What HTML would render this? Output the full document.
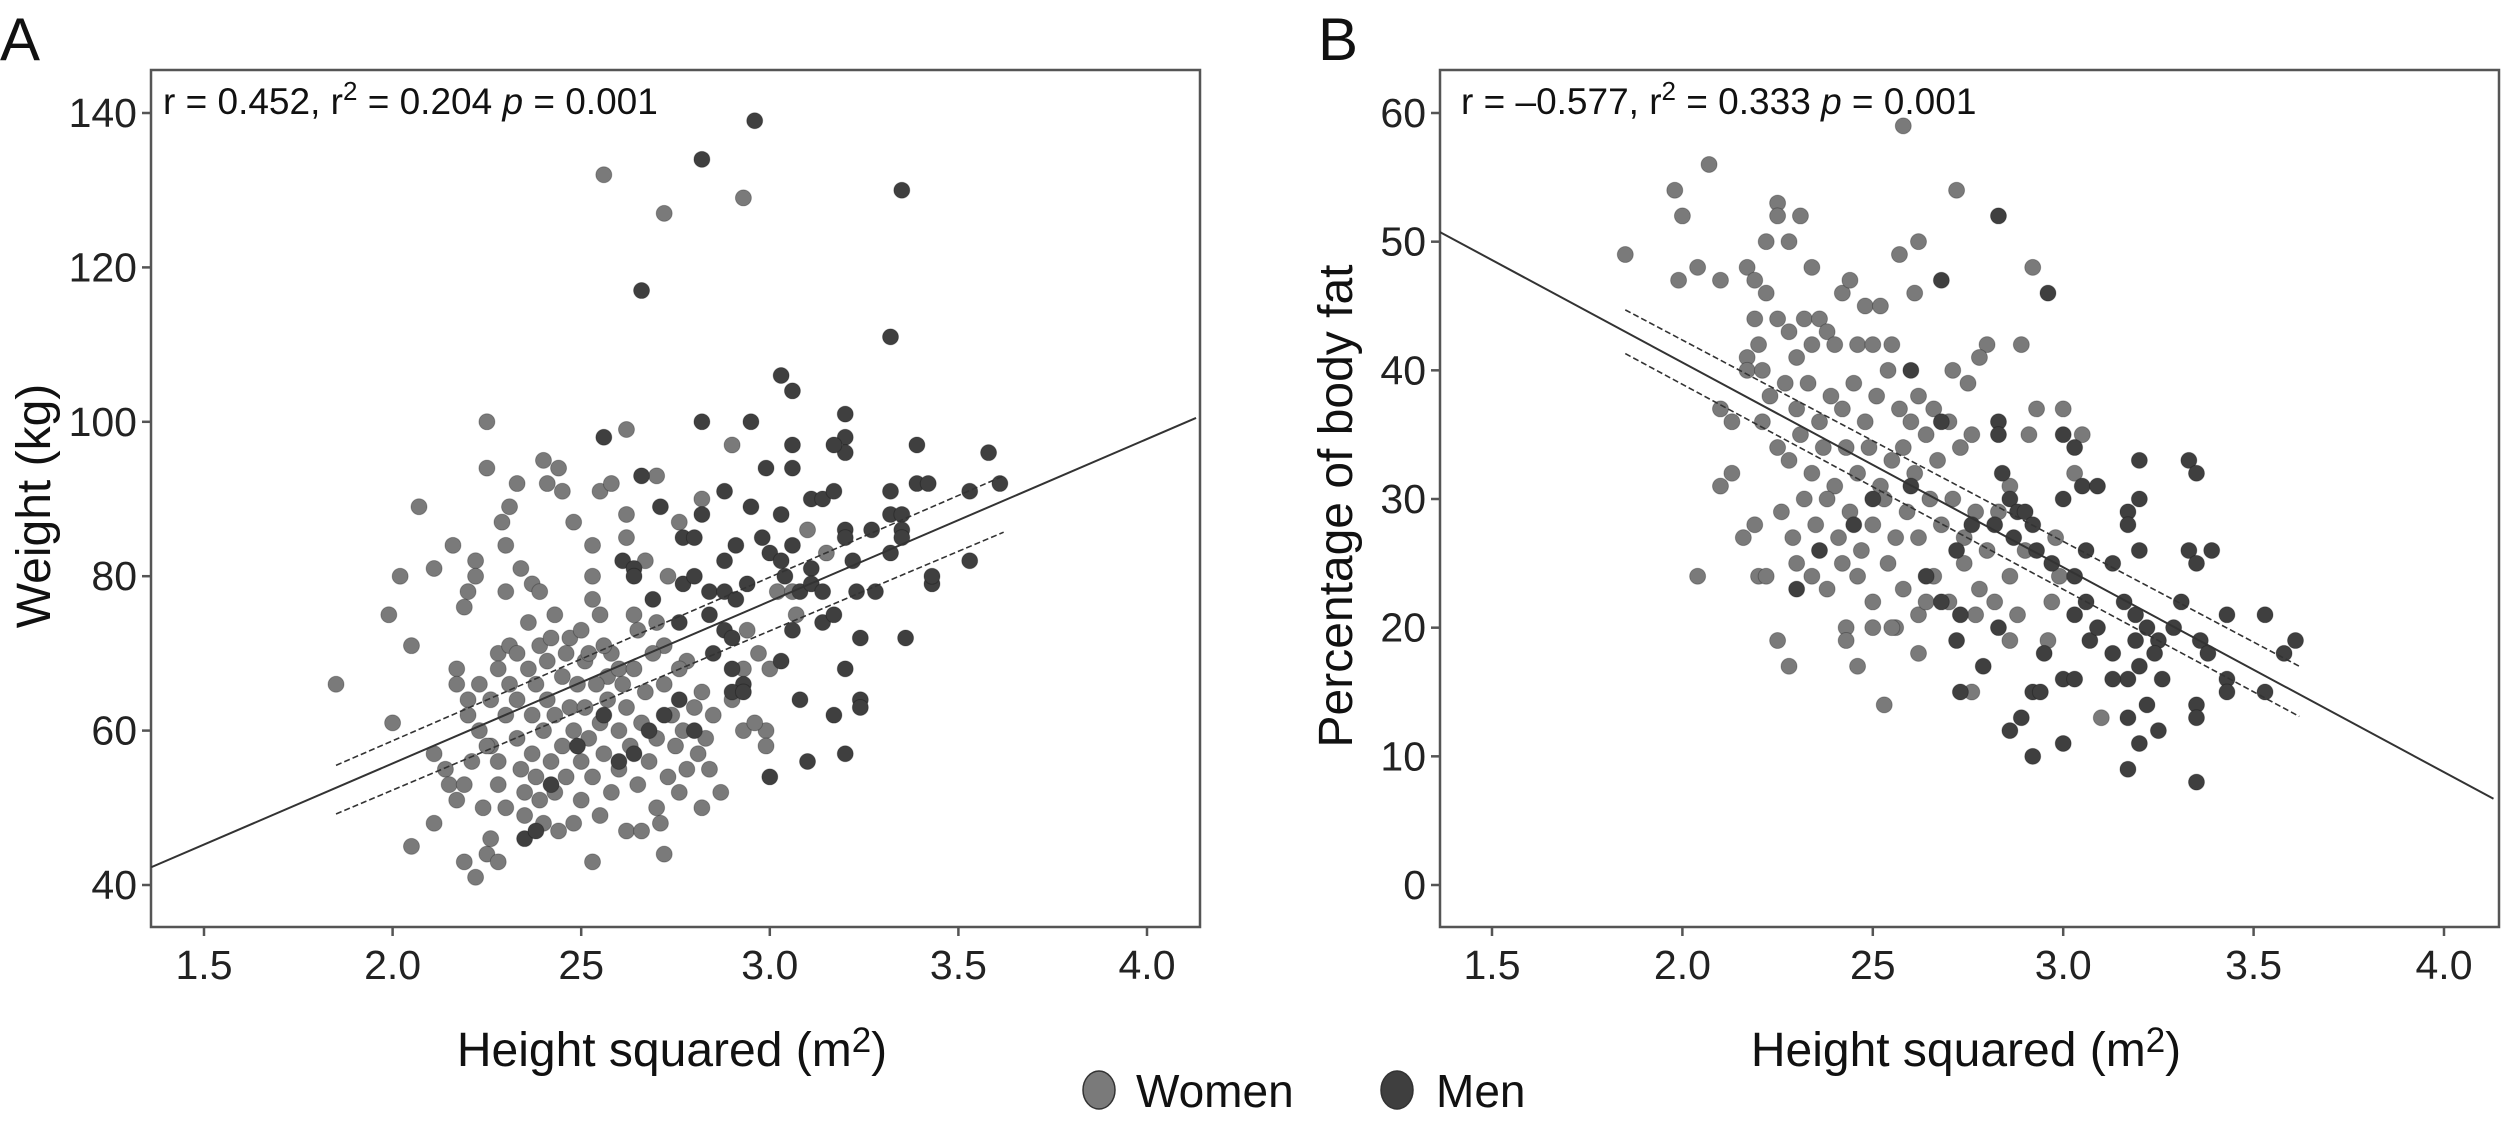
<!DOCTYPE html>
<html><head><meta charset="utf-8"><style>
html,body{margin:0;padding:0;background:#fff;}
svg{display:block;font-family:"Liberation Sans",Arial,sans-serif;}
</style></head><body>
<svg id="fig" width="2503" height="1130" viewBox="0 0 2503 1130"></svg>
<script>
// ---------- data ----------
const xTicks = [1.5, 2.0, 2.5, 3.0, 3.5, 4.0];
const xTickLabels = ["1.5","2.0","25","3.0","3.5","4.0"];
const yTicksA = [40, 60, 80, 100, 120, 140];
const yTicksB = [0, 10, 20, 30, 40, 50, 60];
const fitA = [[1.36, 42.3], [4.13, 100.5]];
const ciUpperA = [[1.85, 55.5], [3.62, 93.0]];
const ciLowerA = [[1.85, 49.2], [3.62, 85.7]];
const fitB = [[1.36, 50.8], [4.13, 6.7]];
const ciUpperB = [[1.85, 44.7], [3.62, 17.0]];
const ciLowerB = [[1.85, 41.3], [3.62, 13.1]];
const womenA = [[2.56,132],[2.72,127],[2.93,129],[1.85,66],[2.0,61],[1.99,75],[2.02,80],[2.05,71],[2.07,89],[2.11,81],[2.16,84],[2.05,45],[2.11,57],[2.14,55],[2.15,53],[2.17,51],[2.11,48],[2.19,43],[2.22,41],[2.25,44],[2.26,46],[2.28,43],[2.25,100],[2.25,94],[2.29,87],[2.31,89],[2.33,92],[2.3,84],[2.34,81],[2.2,78],[2.19,76],[2.22,82],[2.22,80],[2.3,78],[2.37,79],[2.39,78],[2.4,95],[2.41,92],[2.44,94],[2.45,91],[2.48,87],[2.53,84],[2.55,91],[2.58,92],[2.62,99],[2.62,88],[2.62,85],[2.53,80],[2.53,77],[2.55,75],[2.43,75],[2.47,72],[2.51,69],[2.7,93],[2.73,80],[2.76,87],[2.82,90],[2.9,97],[2.67,82],[2.57,67],[2.6,68],[2.65,73],[2.72,71],[2.78,69],[2.53,43],[2.72,44],[2.62,47],[2.66,47],[2.71,48],[2.82,50],[2.87,52],[2.76,52],[2.93,60],[2.99,60],[2.99,58],[3.0,68],[3.1,86],[3.02,78],[3.06,78],[3.15,83],[3.07,75],[2.97,70],[2.94,73],
[2.17,68],[2.17,66],[2.2,64],[2.2,62],[2.23,60],[2.23,66],[2.26,64],[2.26,58],[2.28,70],[2.28,68],[2.28,56],[2.28,53],[2.3,50],[2.3,62],[2.31,66],[2.31,71],[2.33,70],[2.33,64],[2.33,59],[2.34,55],[2.35,52],[2.35,49],[2.36,68],[2.37,62],[2.37,57],[2.38,54],[2.38,66],[2.39,71],[2.39,51],[2.4,48],[2.4,60],[2.41,64],[2.41,69],[2.42,56],[2.43,62],[2.43,52],[2.44,47],[2.45,67],[2.45,58],[2.46,70],[2.46,54],[2.47,63],[2.48,48],[2.48,60],[2.49,66],[2.5,56],[2.5,51],[2.51,63],[2.52,70],[2.52,59],[2.53,54],[2.54,66],[2.55,49],[2.55,61],[2.56,57],[2.57,64],[2.58,52],[2.58,70],[2.6,60],[2.6,55],[2.61,66],[2.62,63],[2.63,58],[2.64,68],[2.65,53],[2.66,61],[2.67,65],[2.68,56],[2.69,70],[2.7,59],[2.7,50],[2.72,66],[2.73,54],[2.74,62],[2.75,58],[2.76,68],[2.77,60],[2.78,55],[2.8,63],[2.81,57],[2.82,65],[2.83,59],[2.84,55],[2.85,62],[2.9,64],[2.93,68],[2.96,61],[2.25,58],[2.24,50],[2.21,56],[2.19,53],[2.36,74],[2.42,72],[2.5,73],[2.56,71],[2.64,75],[2.7,74]];
const menA = [[2.96,139],[2.82,134],[3.35,130],[2.66,117],[3.32,111],[3.03,106],[3.06,104],[2.82,100],[2.95,100],[3.2,101],[3.2,98],[3.2,96],[3.17,97],[2.56,98],[3.06,97],[3.39,97],[2.99,94],[3.06,94],[2.66,93],[2.88,91],[3.11,90],[3.14,90],[3.17,91],[3.32,91],[3.39,92],[3.42,92],[3.53,91],[3.58,96],[3.61,92],[2.71,89],[2.95,89],[2.82,88],[3.03,88],[3.2,86],[3.27,86],[3.32,88],[3.35,88],[3.35,86],[3.35,85],[2.98,85],[3.0,83],[3.03,82],[3.06,84],[2.91,84],[2.88,82],[2.61,82],[2.64,81],[2.64,80],[2.77,85],[2.8,85],[3.11,81],[3.2,85],[3.22,82],[3.32,83],[3.04,80],[3.08,78],[3.11,79],[3.14,78],[3.23,78],[3.28,78],[3.43,79],[3.43,80],[3.53,82],[2.77,79],[2.8,80],[2.84,78],[2.88,78],[2.91,77],[2.94,79],[2.69,77],[2.76,74],[2.84,75],[2.88,73],[2.9,72],[3.06,73],[3.14,74],[3.17,75],[2.85,70],[2.9,68],[2.93,66],[3.03,69],[3.08,64],[3.2,68],[3.24,72],[3.36,72],[3.24,64],[3.24,63],[2.9,65],[2.93,65],[3.17,62],[3.0,54],[3.1,56],[3.2,57],[2.35,46],[2.38,47],[2.68,60],[2.72,62],[2.76,64],[2.8,60],[2.6,56],[2.64,57],[2.42,53],[2.49,58],[2.56,62]];
const womenB = [[2.07,56],[1.98,54],[2.0,52],[1.85,49],[2.04,48],[1.99,47],[2.1,47],[2.17,48],[2.19,47],[2.25,53],[2.25,52],[2.31,52],[2.22,50],[2.28,50],[2.34,48],[2.22,46],[2.19,44],[2.2,42],[2.17,41],[2.17,40],[2.21,40],[2.23,38],[2.21,36],[2.1,37],[2.13,36],[2.1,31],[2.13,32],[2.16,27],[2.19,28],[2.2,24],[2.22,24],[2.04,24],[2.25,19],[2.28,17],[2.58,59],[2.72,54],[2.62,50],[2.57,49],[2.61,46],[2.92,48],[2.89,42],[2.8,42],[2.78,41],[2.75,39],[2.71,40],[2.66,37],[2.62,38],[2.46,17],[2.53,14],[2.62,18],[2.56,20],[2.43,20],[2.43,19],[2.76,15],[2.86,19],[2.96,19],[3.1,13],[2.99,24],[2.93,37],[3.0,37],[3.05,35],[3.03,32],[2.91,35],
[2.25,44],[2.28,43],[2.3,41],[2.32,44],[2.34,42],[2.36,44],[2.38,43],[2.4,42],[2.42,46],[2.44,47],[2.46,42],[2.48,45],[2.5,42],[2.52,45],[2.55,42],[2.27,39],[2.3,37],[2.33,39],[2.36,36],[2.39,38],[2.42,37],[2.45,39],[2.48,36],[2.51,38],[2.54,40],[2.57,37],[2.6,36],[2.25,34],[2.28,33],[2.31,35],[2.34,32],[2.37,34],[2.4,31],[2.43,34],[2.46,32],[2.49,34],[2.52,31],[2.55,33],[2.58,34],[2.61,32],[2.64,35],[2.67,33],[2.7,36],[2.73,34],[2.76,35],[2.26,29],[2.29,27],[2.32,30],[2.35,28],[2.38,30],[2.41,27],[2.44,29],[2.47,26],[2.5,28],[2.53,30],[2.56,27],[2.59,29],[2.62,27],[2.65,30],[2.68,28],[2.71,30],[2.74,27],[2.77,29],[2.8,26],[2.83,29],[2.86,31],[2.3,25],[2.34,24],[2.38,23],[2.42,25],[2.46,24],[2.5,22],[2.54,25],[2.58,23],[2.62,21],[2.66,24],[2.7,22],[2.74,25],[2.78,23],[2.82,22],[2.86,24],[2.9,26],[2.5,20],[2.55,20],[2.64,22],[2.77,21],[2.88,21],[2.98,27],[2.97,22]];
const menB = [[2.83,52],[2.96,46],[2.68,47],[2.83,36],[2.83,35],[3.0,35],[3.03,34],[3.2,33],[3.33,33],[3.35,32],[3.05,31],[3.09,31],[3.2,30],[3.0,30],[2.84,32],[2.86,30],[2.88,29],[2.9,29],[2.92,28],[2.82,28],[3.17,29],[3.17,28],[2.93,26],[3.06,26],[3.13,25],[3.2,26],[3.33,26],[3.35,25],[3.39,26],[2.97,25],[3.03,24],[3.06,22],[3.03,21],[3.07,19],[3.09,20],[3.16,22],[3.19,21],[3.22,20],[3.25,19],[3.29,20],[3.31,22],[3.19,19],[3.24,18],[3.36,19],[3.38,18],[3.43,21],[3.43,16],[3.43,15],[3.53,21],[3.58,18],[3.61,19],[3.53,15],[3.35,14],[3.35,13],[3.26,16],[3.2,17],[3.17,16],[3.13,16],[3.13,18],[3.22,14],[3.17,13],[3.2,11],[3.25,12],[3.17,9],[3.35,8],[3.0,16],[3.03,16],[3.0,11],[2.92,10],[2.92,15],[2.94,15],[2.86,12],[2.89,13],[2.95,18],[2.83,20],[2.79,17],[2.73,15],[2.72,19],[2.73,21],[2.68,22],[2.64,24],[2.3,23],[2.36,26],[2.45,28],[2.5,30],[2.6,31],[2.72,26],[2.76,28],[2.87,27],[2.6,40],[2.68,36]];

// ---------- drawing ----------
const NS = "http://www.w3.org/2000/svg";
const svg = document.getElementById("fig");
function mk(tag, attrs, parent){ const e=document.createElementNS(NS,tag); for(const k in attrs) e.setAttribute(k,attrs[k]); (parent||svg).appendChild(e); return e; }

function panel(cfg){
  const g = mk("g",{});
  
  
  const sx = v => cfg.x0 + (v-1.5)/(4.0-1.5)*(cfg.x1-cfg.x0);
  const sy = v => cfg.yTop + (cfg.ymax - v)/(cfg.ymax-cfg.ymin)*(cfg.yBot-cfg.yTop);
  const fr = mk("rect",{x:cfg.L,y:cfg.T,width:cfg.R-cfg.L,height:cfg.B-cfg.T,fill:"#fff",stroke:"#555","stroke-width":2.5},g);
  
  
  cfg.yTicks.forEach(v=>{
    const y=sy(v);
    const t=mk("line",{x1:cfg.L-9,x2:cfg.L,y1:y,y2:y,stroke:"#555","stroke-width":2.5},g);
    
    
    const tx=mk("text",{x:cfg.L-14,y:y+14,"text-anchor":"end","font-size":41,fill:"#222"},g);
    tx.textContent=String(v);
    
    
  });
  xTicks.forEach((v,i)=>{
    const x=sx(v);
    const t=mk("line",{x1:x,x2:x,y1:cfg.B,y2:cfg.B+9,stroke:"#555","stroke-width":2.5},g);
    
    
    const tx=mk("text",{x:x,y:cfg.B+52,"text-anchor":"middle","font-size":41,fill:"#222"},g);
    tx.textContent=xTickLabels[i];
    
    
  });
  const clip = mk("clipPath",{id:"clip"+cfg.name},g);
  mk("rect",{x:cfg.L,y:cfg.T,width:cfg.R-cfg.L,height:cfg.B-cfg.T},clip);
  const pg = mk("g",{"clip-path":"url(#clip"+cfg.name+")"},g);
  function dots(arr,col,nm){
    arr.forEach(p=>{
      const c=mk("circle",{cx:sx(p[0]),cy:sy(p[1]),r:8,fill:col,stroke:"rgba(0,0,0,0.25)","stroke-width":1},pg);
      
      
    });
  }
  dots(cfg.women,"#7a7a7a","women-point");
  dots(cfg.men,"#3f3f3f","men-point");
  function line(seg,dash,nm,w){
    const l=mk("line",{x1:sx(seg[0][0]),y1:sy(seg[0][1]),x2:sx(seg[1][0]),y2:sy(seg[1][1]),stroke:"#333","stroke-width":w},pg);
    if(dash) l.setAttribute("stroke-dasharray","6 3");
    
    
  }
  line(cfg.fit,false,"regression-line",2);
  line(cfg.ciU,true,"ci-upper-line",1.6);
  line(cfg.ciL,true,"ci-lower-line",1.6);
}

panel({name:"panel-a",L:151,R:1200,T:70,B:927,x0:204,x1:1147,yTop:113,yBot:885,ymin:40,ymax:140,yTicks:yTicksA,women:womenA,men:menA,fit:fitA,ciU:ciUpperA,ciL:ciLowerA});
panel({name:"panel-b",L:1440,R:2499,T:70,B:927,x0:1492,x1:2444,yTop:113,yBot:885,ymin:0,ymax:60,yTicks:yTicksB,women:womenB,men:menB,fit:fitB,ciU:ciUpperB,ciL:ciLowerB});

function txt(x,y,html,size,anchor,name,rot){
  const t=document.createElementNS(NS,"text");
  t.setAttribute("x",x);t.setAttribute("y",y);t.setAttribute("font-size",size);t.setAttribute("fill","#111");
  t.setAttribute("text-anchor",anchor||"start");
  if(rot) t.setAttribute("transform","rotate(-90 "+x+" "+y+")");
  t.innerHTML=html;
  
  
  svg.appendChild(t);return t;
}
txt(0,60,"A",60,"start","panel-a-label");
txt(1318,60,"B",60,"start","panel-b-label");
txt(163,114,'r = 0.452, r<tspan dy="-14" font-size="26">2</tspan><tspan dy="14"> = 0.204 </tspan><tspan font-style="italic">p</tspan> = 0.001',37,"start","panel-a-stats");
txt(1461,114,'r = –0.577, r<tspan dy="-14" font-size="26">2</tspan><tspan dy="14"> = 0.333 </tspan><tspan font-style="italic">p</tspan> = 0.001',37,"start","panel-b-stats");
txt(672,1066,'Height squared (m<tspan dy="-14" font-size="35">2</tspan><tspan dy="14">)</tspan>',48,"middle","panel-a-x-title");
txt(1966,1066,'Height squared (m<tspan dy="-14" font-size="35">2</tspan><tspan dy="14">)</tspan>',48,"middle","panel-b-x-title");
txt(50,506,"Weight (kg)",48,"middle","panel-a-y-title",true);
txt(1352,506,"Percentage of body fat",48,"middle","panel-b-y-title",true);
function leg(cx,col,label,tx,nm){
  const c=document.createElementNS(NS,"ellipse");
  c.setAttribute("cx",cx);c.setAttribute("cy",1090);c.setAttribute("rx",16);c.setAttribute("ry",19);
  c.setAttribute("fill",col);c.setAttribute("stroke","#333");c.setAttribute("stroke-width",1.5);
  
  
  svg.appendChild(c);
  txt(tx,1107,label,46,"start",nm+'-label');
}
leg(1099,"#7a7a7a","Women",1136,"legend-women");
leg(1397,"#3f3f3f","Men",1436,"legend-men");
</script>
</body></html>
